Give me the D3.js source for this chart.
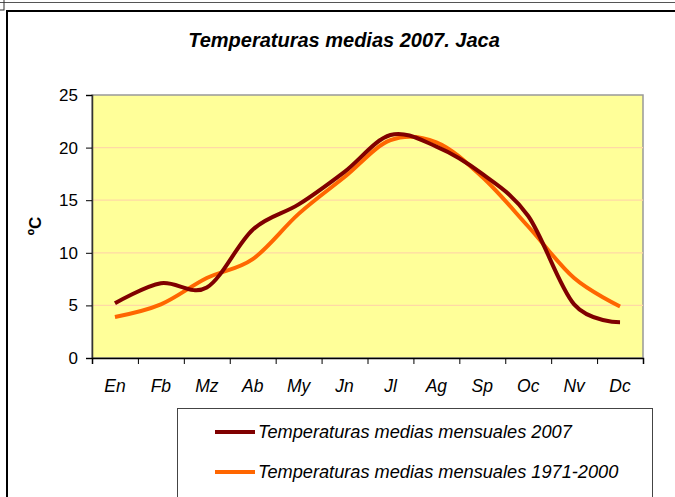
<!DOCTYPE html>
<html>
<head>
<meta charset="utf-8">
<script src="https://cdn.jsdelivr.net/npm/d3@7"></script>
<style>
  body { margin: 0; background: #fff; }
  svg { display: block; font-family: "Liberation Sans", Arial, sans-serif; }
</style>
</head>
<body>
<div id="chart"></div>
<script>
var months = ["En", "Fb", "Mz", "Ab", "My", "Jn", "Jl", "Ag", "Sp", "Oc", "Nv", "Dc"];
var temp2007 = [5.2, 7.1, 6.7, 12.2, 14.6, 17.7, 21.2, 20.1, 17.5, 13.5, 5.1, 3.4];
var temp7100 = [3.9, 5.1, 7.6, 9.4, 13.7, 17.2, 20.7, 20.5, 17.2, 12.5, 7.6, 4.9];
var yTicks = [0, 5, 10, 15, 20, 25];
var seriesNames = ["Temperaturas medias mensuales 2007", "Temperaturas medias mensuales 1971-2000"];
var seriesColors = ["#800000", "#ff6600"];

var W = 675, H = 497;
var plot = {left: 92, right: 643, top: 95, bottom: 358};

var svg = d3.select("#chart")
    .append("svg")
        .attr("width", W)
        .attr("height", H);

// outer frame bits
svg.append("line").attr("x1", 0).attr("x2", W).attr("y1", 2.5).attr("y2", 2.5)
    .attr("stroke", "#555").attr("stroke-width", 1);
svg.append("rect").attr("x", -1).attr("y", -1).attr("width", 5).attr("height", 11)
    .attr("fill", "none").attr("stroke", "#333");
svg.append("line").attr("x1", 6).attr("x2", W).attr("y1", 11).attr("y2", 11)
    .attr("stroke", "#000").attr("stroke-width", 2);
svg.append("line").attr("x1", 7).attr("x2", 7).attr("y1", 10).attr("y2", H)
    .attr("stroke", "#000").attr("stroke-width", 2);

svg.append("text")
    .attr("x", 344)
    .attr("y", 47)
    .attr("text-anchor", "middle")
    .style("font-size", "20px")
    .style("font-weight", "bold")
    .style("font-style", "italic")
    .text("Temperaturas medias 2007. Jaca");

var x = d3.scaleBand()
    .domain(months)
    .range([plot.left, plot.right]);

var xEdge = d3.scaleLinear()
    .domain([0, months.length])
    .range([plot.left, plot.right]);

var y = d3.scaleLinear()
    .domain([0, 25])
    .range([plot.bottom, plot.top]);

// plot background
svg.append("rect")
    .attr("x", plot.left)
    .attr("y", plot.top)
    .attr("width", plot.right - plot.left)
    .attr("height", plot.bottom - plot.top)
    .attr("fill", "#ffff99")
    .attr("stroke", "#999")
    .attr("stroke-width", 1.5);

// gridlines
svg.append("g")
    .selectAll("line")
    .data(yTicks.slice(1, -1))
    .enter()
    .append("line")
    .attr("x1", plot.left)
    .attr("x2", plot.right)
    .attr("y1", function(d) { return y(d); })
    .attr("y2", function(d) { return y(d); })
    .attr("stroke", "#ffd9a6")
    .attr("stroke-width", 1.2);

var yAxis = svg.append("g")
    .attr("transform", "translate(" + plot.left + ",0)")
    .call(d3.axisLeft(y).tickValues(yTicks).tickSize(6).tickPadding(8));
yAxis.selectAll("text").style("font-size", "17px").attr("fill", "#000");
yAxis.select(".domain").attr("stroke", "#333").attr("stroke-width", 1.5);

var xAxis = svg.append("g")
    .attr("transform", "translate(0," + plot.bottom + ")")
    .call(d3.axisBottom(xEdge).tickValues(d3.range(months.length + 1)).tickSize(6).tickFormat(""));
xAxis.select(".domain").attr("stroke", "#000").attr("stroke-width", 1.5);

svg.append("g")
    .selectAll("text")
    .data(months)
    .enter()
    .append("text")
    .attr("x", function(d) { return x(d) + x.bandwidth() / 2; })
    .attr("y", 392)
    .attr("text-anchor", "middle")
    .style("font-size", "17.5px")
    .style("font-style", "italic")
    .text(function(d) { return d; });

svg.append("text")
    .attr("transform", "translate(41,226) rotate(-90)")
    .attr("text-anchor", "middle")
    .style("font-size", "17px")
    .style("font-weight", "bold")
    .text("ºC");

var line = d3.line()
    .x(function(d, i) { return x(months[i]) + x.bandwidth() / 2; })
    .y(function(d) { return y(d); })
    .curve(d3.curveCardinal.tension(0));

[temp7100, temp2007].forEach(function(s, k) {
    svg.append("path")
        .datum(s)
        .attr("fill", "none")
        .attr("stroke", k === 0 ? seriesColors[1] : seriesColors[0])
        .attr("stroke-width", 4)
        .attr("stroke-linejoin", "round")
        .attr("d", line);
});

// legend
svg.append("rect")
    .attr("x", 177.5)
    .attr("y", 408.5)
    .attr("width", 475)
    .attr("height", 100)
    .attr("fill", "#fff")
    .attr("stroke", "#444")
    .attr("stroke-width", 1);

seriesNames.forEach(function(name, i) {
    var ly = 432 + i * 40;
    svg.append("line")
        .attr("x1", 215).attr("x2", 255)
        .attr("y1", ly).attr("y2", ly)
        .attr("stroke", seriesColors[i])
        .attr("stroke-width", 4);
    svg.append("text")
        .attr("x", 258)
        .attr("y", ly + 6)
        .style("font-size", "18.2px")
        .style("font-style", "italic")
        .text(name);
});
</script>
</body>
</html>
